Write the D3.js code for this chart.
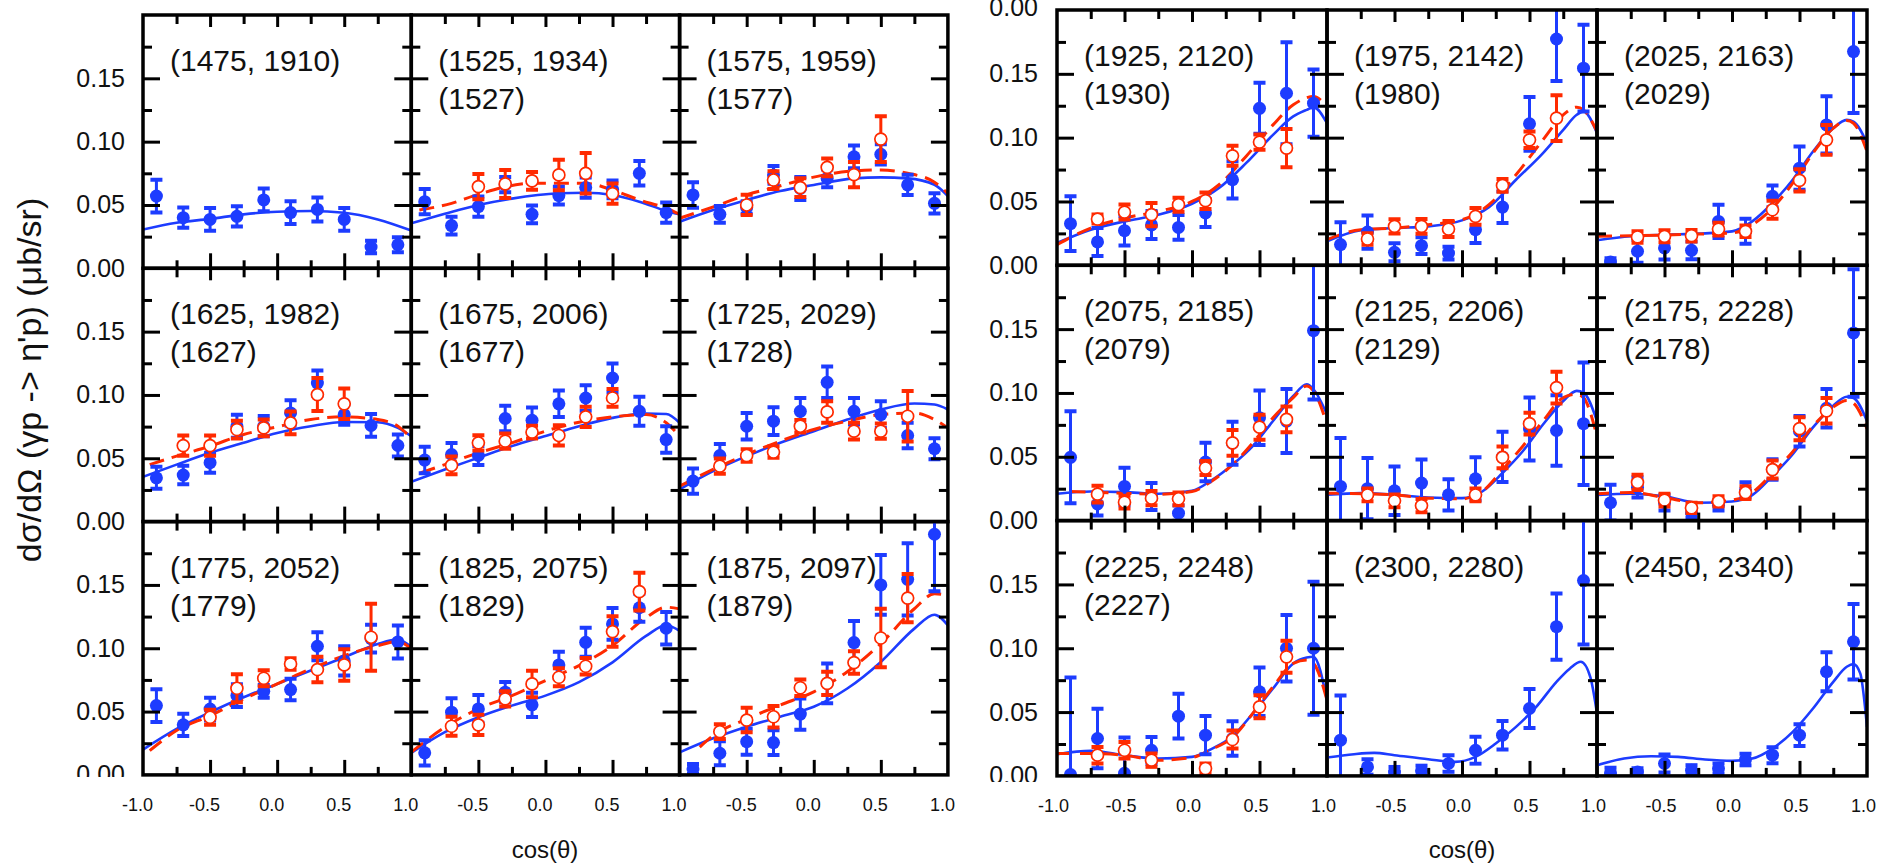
<!DOCTYPE html>
<html><head><meta charset="utf-8">
<script src="https://cdn.jsdelivr.net/npm/d3@7"></script>
<style>
body{margin:0;background:#fff;}
svg{display:block;font-family:"Liberation Sans",Arial,Helvetica,sans-serif;}
</style>
</head><body>
<svg id="chart" width="1892" height="867"></svg>
<script>
// ---------------- DATA ----------------
const cosBins = [-0.9, -0.7, -0.5, -0.3, -0.1, 0.1, 0.3, 0.5, 0.7, 0.9];
const xTickLabelsFirst = [-1.0, -0.5, 0.0, 0.5, 1.0];
const xTickLabelsOther = [-0.5, 0.0, 0.5, 1.0];
const yTickLabels = [0.00, 0.05, 0.10, 0.15];
const strayTopLabel = "0.00";
const yTitle = "dσ/dΩ (γp -> η'p) (μb/sr)";
const xTitle = "cos(θ)";

const panelTitles = ["(1475, 1910)", "(1525, 1934)", "(1575, 1959)", "(1625, 1982)", "(1675, 2006)", "(1725, 2029)",
  "(1775, 2052)", "(1825, 2075)", "(1875, 2097)", "(1925, 2120)", "(1975, 2142)", "(2025, 2163)",
  "(2075, 2185)", "(2125, 2206)", "(2175, 2228)", "(2225, 2248)", "(2300, 2280)", "(2450, 2340)"];
const panelSubtitles = ["", "(1527)", "(1577)", "(1627)", "(1677)", "(1728)", "(1779)", "(1829)", "(1879)",
  "(1930)", "(1980)", "(2029)", "(2079)", "(2129)", "(2178)", "(2227)", "", ""];

// blue: filled points (value, error) at cosBins
const blueVals = [
  [0.057, 0.040, 0.0386, 0.041, 0.054, 0.044, 0.0465, 0.0386, 0.0168, 0.0186],
  [0.0526, 0.0337, 0.0487, 0.066, 0.0426, 0.0574, 0.0637, 0.0624, 0.075, 0.044],
  [0.0579, 0.0426, 0.048, 0.0737, 0.063, 0.071, 0.088, 0.09, 0.0658, 0.0513],
  [0.0346, 0.0367, 0.0465, 0.0753, 0.0753, 0.0858, 0.1094, 0.0845, 0.0759, 0.0601],
  [0.0486, 0.053, 0.0522, 0.0814, 0.080, 0.093, 0.0976, 0.1134, 0.0871, 0.0648],
  [0.032, 0.0522, 0.0753, 0.0793, 0.0871, 0.110, 0.0871, 0.0845, 0.068, 0.0575],
  [0.0547, 0.0395, 0.052, 0.0626, 0.066, 0.0674, 0.1016, 0.090, 0.1076, 0.105],
  [0.0174, 0.0495, 0.0521, 0.0653, 0.0553, 0.0868, 0.1047, 0.1192, 0.132, 0.1158],
  [0.0047, 0.0171, 0.0262, 0.0255, 0.048, 0.0722, 0.1045, 0.150, 0.1544, 0.190],
  [0.0326, 0.0183, 0.0271, 0.0316, 0.0297, 0.041, 0.067, 0.123, 0.1348, 0.127],
  [0.0162, 0.026, 0.0102, 0.0154, 0.0096, 0.0279, 0.0456, 0.1108, 0.1773, 0.1544],
  [0.0026, 0.011, 0.0136, 0.0117, 0.0344, 0.0266, 0.054, 0.0761, 0.11, 0.1674],
  [0.0496, 0.013, 0.0268, 0.0189, 0.0058, 0.0459, 0.0606, 0.0806, 0.078, 0.1488],
  [0.0268, 0.025, 0.0234, 0.0294, 0.0202, 0.0328, 0.0499, 0.0717, 0.0706, 0.0759],
  [0.014, 0.026, 0.014, 0.006, 0.012, 0.024, 0.04, 0.07, 0.088, 0.147],
  [0.001, 0.0293, 0.002, 0.020, 0.0468, 0.0319, 0.0293, 0.0659, 0.10, 0.10],
  [0.028, 0.007, 0.003, 0.004, 0.0097, 0.0201, 0.0319, 0.0528, 0.1169, 0.153],
  [0.0024, 0.003, 0.0097, 0.0044, 0.0058, 0.0128, 0.0162, 0.0319, 0.0816, 0.1051]
];
const blueErrs = [
  [0.013, 0.008, 0.009, 0.008, 0.009, 0.009, 0.0095, 0.009, 0.005, 0.006],
  [0.01, 0.007, 0.008, 0.006, 0.007, 0.007, 0.008, 0.007, 0.0097, 0.008],
  [0.01, 0.0066, 0.005, 0.007, 0.009, 0.007, 0.009, 0.008, 0.008, 0.008],
  [0.0087, 0.0073, 0.0079, 0.009, 0.008, 0.01, 0.01, 0.008, 0.009, 0.0087],
  [0.0105, 0.009, 0.0075, 0.01, 0.01, 0.0105, 0.01, 0.0115, 0.0115, 0.0105],
  [0.01, 0.009, 0.0105, 0.011, 0.0105, 0.0125, 0.0105, 0.0105, 0.01, 0.0083],
  [0.013, 0.0087, 0.009, 0.009, 0.005, 0.0085, 0.011, 0.0115, 0.011, 0.013],
  [0.01, 0.011, 0.011, 0.008, 0.0096, 0.0105, 0.0115, 0.0125, 0.011, 0.0128],
  [0.004, 0.0095, 0.0102, 0.0098, 0.0124, 0.0157, 0.017, 0.0236, 0.0286, 0.045],
  [0.0214, 0.011, 0.0115, 0.011, 0.0097, 0.011, 0.0146, 0.02, 0.04, 0.0263],
  [0.0176, 0.013, 0.007, 0.0065, 0.005, 0.0105, 0.0125, 0.021, 0.033, 0.034],
  [0.003, 0.009, 0.009, 0.007, 0.013, 0.0098, 0.0085, 0.017, 0.0224, 0.048],
  [0.036, 0.009, 0.0147, 0.0105, 0.006, 0.015, 0.0168, 0.0214, 0.025, 0.054],
  [0.038, 0.024, 0.019, 0.0184, 0.0122, 0.0168, 0.0197, 0.0247, 0.0276, 0.048],
  [0.014, 0.008, 0.006, 0.004, 0.004, 0.006, 0.008, 0.012, 0.015, 0.05],
  [0.076, 0.0233, 0.028, 0.0105, 0.0175, 0.015, 0.0135, 0.019, 0.026, 0.052],
  [0.035, 0.006, 0.004, 0.004, 0.0065, 0.0105, 0.0112, 0.0153, 0.026, 0.05],
  [0.004, 0.003, 0.007, 0.004, 0.004, 0.0045, 0.0063, 0.0085, 0.0153, 0.0295]
];
// red: open points (value, error) at cosBins, null where absent
const redVals = [
  [null, null, null, null, null, null, null, null, null, null],
  [null, null, 0.0645, 0.0666, 0.069, 0.0737, 0.075, 0.059, null, null],
  [null, null, 0.05, 0.0697, 0.0637, 0.0797, 0.074, 0.102, null, null],
  [null, 0.060, 0.060, 0.0727, 0.074, 0.078, 0.1003, 0.093, null, null],
  [null, 0.0444, 0.0622, 0.0635, 0.0706, 0.068, 0.0827, 0.0976, null, null],
  [null, 0.0438, 0.0522, 0.0549, 0.0753, 0.0866, 0.0714, 0.0714, 0.0832, null],
  [null, null, 0.0455, 0.0684, 0.0763, 0.0876, 0.0832, 0.0868, 0.1087, null],
  [null, 0.0384, 0.0395, 0.06, 0.0718, 0.0771, 0.0858, 0.1132, 0.1447, null],
  [null, 0.0341, 0.0433, 0.0459, 0.0688, 0.0722, 0.0887, 0.1081, 0.1396, null],
  [null, 0.0362, 0.0417, 0.0397, 0.0475, 0.0506, 0.0858, 0.0965, 0.0918, null],
  [null, 0.0206, 0.0305, 0.0305, 0.0284, 0.0383, 0.0626, 0.0983, 0.1153, null],
  [null, 0.0222, 0.0227, 0.0232, 0.0284, 0.0266, 0.0435, 0.0665, 0.0983, null],
  [null, 0.0207, 0.0144, 0.0176, 0.0171, 0.0412, 0.0609, 0.0732, 0.0793, null],
  [null, 0.0202, 0.0155, 0.0118, null, 0.0202, 0.0496, 0.0759, 0.1042, null],
  [null, 0.030, 0.016, 0.010, 0.015, 0.022, 0.04, 0.072, 0.086, null],
  [null, 0.0162, 0.0201, 0.0123, null, 0.0058, 0.0285, 0.0541, 0.0933, null],
  [null, null, null, null, null, null, null, null, null, null],
  [null, null, null, null, null, null, null, null, null, null]
];
const redErrs = [
  [null, null, null, null, null, null, null, null, null, null],
  [null, null, 0.01, 0.011, 0.007, 0.012, 0.016, 0.008, null, null],
  [null, null, 0.008, 0.007, 0.0075, 0.007, 0.01, 0.018, null, null],
  [null, 0.008, 0.008, 0.007, 0.0066, 0.009, 0.013, 0.012, null, null],
  [null, 0.007, 0.006, 0.006, 0.005, 0.008, 0.008, 0.007, null, null],
  [null, 0.006, 0.005, 0.0045, 0.005, 0.0085, 0.0066, 0.006, 0.02, null],
  [null, null, 0.006, 0.011, 0.0063, 0.0045, 0.01, 0.0125, 0.0265, null],
  [null, 0.0075, 0.008, 0.006, 0.0105, 0.0072, 0.0066, 0.0121, 0.0149, null],
  [null, 0.0058, 0.0097, 0.0085, 0.0066, 0.0092, 0.0089, 0.0231, 0.019, null],
  [null, 0.0035, 0.0059, 0.0091, 0.0055, 0.0065, 0.0078, 0.006, 0.015, null],
  [null, 0.0045, 0.0055, 0.0057, 0.0063, 0.0065, 0.005, 0.0065, 0.018, null],
  [null, 0.0045, 0.0047, 0.0045, 0.005, 0.0045, 0.007, 0.0087, 0.0117, null],
  [null, 0.0066, 0.005, 0.0055, 0.005, 0.0055, 0.01, 0.0098, 0.01, null],
  [null, 0.005, 0.005, 0.0052, null, 0.005, 0.0085, 0.0085, 0.0125, null],
  [null, 0.006, 0.005, 0.004, 0.004, 0.005, 0.007, 0.009, 0.01, null],
  [null, 0.0065, 0.0065, 0.0052, null, 0.004, 0.007, 0.009, 0.0125, null],
  [null, null, null, null, null, null, null, null, null, null],
  [null, null, null, null, null, null, null, null, null, null]
];
// blue solid model curves [cos, value]
const blueFits = [
  [[-1,0.0306],[-0.75,0.036],[-0.5,0.039],[-0.25,0.0426],[0,0.0447],[0.25,0.0452],[0.5,0.0439],[0.75,0.0386],[1,0.0298]],
  [[-1,0.0355],[-0.75,0.043],[-0.5,0.05],[-0.25,0.055],[0.1,0.0592],[0.3,0.0597],[0.5,0.0579],[0.7,0.0526],[0.9,0.0453],[1,0.0426]],
  [[-1,0.0368],[-0.75,0.046],[-0.5,0.054],[-0.25,0.061],[0,0.0658],[0.3,0.071],[0.5,0.0718],[0.7,0.071],[0.9,0.066],[1,0.057]],
  [[-1,0.0354],[-0.75,0.045],[-0.5,0.0543],[-0.25,0.0622],[0,0.070],[0.25,0.0753],[0.5,0.0787],[0.75,0.0785],[0.9,0.074],[1,0.0674]],
  [[-1,0.0315],[-0.75,0.0412],[-0.5,0.0504],[-0.25,0.0596],[0,0.0675],[0.25,0.0753],[0.5,0.0819],[0.75,0.0853],[0.9,0.085],[1,0.078]],
  [[-1,0.0255],[-0.75,0.0399],[-0.5,0.0517],[-0.25,0.0622],[0,0.0714],[0.25,0.0806],[0.5,0.0885],[0.75,0.0932],[0.9,0.0924],[1,0.0885]],
  [[-1,0.02],[-0.75,0.0363],[-0.5,0.0495],[-0.25,0.0613],[0,0.0718],[0.25,0.0824],[0.5,0.0929],[0.75,0.1034],[0.9,0.1068],[1,0.1008]],
  [[-1,0.0174],[-0.75,0.0337],[-0.5,0.0455],[-0.25,0.0547],[0,0.0626],[0.25,0.0732],[0.5,0.0889],[0.75,0.1097],[0.9,0.1182],[1,0.1137]],
  [[-1,0.0178],[-0.75,0.0289],[-0.5,0.0381],[-0.25,0.046],[0,0.0538],[0.25,0.0682],[0.5,0.0892],[0.75,0.1155],[0.9,0.1265],[1,0.118]],
  [[-1,0.0175],[-0.75,0.0279],[-0.5,0.0344],[-0.25,0.0396],[0,0.0482],[0.2,0.0605],[0.4,0.08],[0.6,0.1022],[0.75,0.1166],[0.85,0.1218],[0.9,0.1239],[1,0.1113]],
  [[-1,0.0188],[-0.75,0.0274],[-0.5,0.0292],[-0.25,0.0305],[0,0.0352],[0.2,0.0456],[0.4,0.067],[0.6,0.0879],[0.75,0.1061],[0.85,0.1179],[0.9,0.1205],[1,0.1035]],
  [[-1,0.0196],[-0.75,0.0227],[-0.5,0.024],[-0.25,0.0248],[0,0.0266],[0.15,0.0344],[0.3,0.0488],[0.45,0.067],[0.6,0.0892],[0.75,0.1074],[0.85,0.1139],[0.9,0.1126],[1,0.0957]],
  [[-1,0.021],[-0.75,0.0228],[-0.5,0.0223],[-0.25,0.021],[0,0.0234],[0.15,0.032],[0.3,0.0438],[0.45,0.0583],[0.6,0.078],[0.75,0.0976],[0.85,0.1068],[0.9,0.1029],[1,0.0832]],
  [[-1,0.0202],[-0.75,0.0215],[-0.5,0.0202],[-0.25,0.0181],[0,0.0176],[0.15,0.0228],[0.3,0.0373],[0.45,0.0543],[0.6,0.0753],[0.75,0.0937],[0.85,0.1016],[0.9,0.1003],[1,0.078]],
  [[-1,0.02],[-0.75,0.021],[-0.5,0.019],[-0.25,0.014],[0,0.015],[0.15,0.02],[0.3,0.035],[0.45,0.052],[0.6,0.073],[0.75,0.09],[0.85,0.097],[0.9,0.096],[1,0.078]],
  [[-1,0.017],[-0.75,0.0196],[-0.5,0.0162],[-0.25,0.0136],[0,0.0149],[0.15,0.0214],[0.3,0.0311],[0.45,0.0489],[0.6,0.0685],[0.75,0.0881],[0.85,0.0928],[0.9,0.0933],[1,0.0593]],
  [[-1,0.0144],[-0.8,0.017],[-0.65,0.018],[-0.5,0.0162],[-0.25,0.0131],[-0.05,0.011],[0.1,0.0149],[0.25,0.0254],[0.4,0.0384],[0.55,0.0541],[0.7,0.0737],[0.8,0.0842],[0.88,0.0894],[0.95,0.0776],[1,0.0489]],
  [[-1,0.0084],[-0.8,0.0136],[-0.6,0.0154],[-0.4,0.0149],[-0.2,0.0128],[0,0.0118],[0.15,0.0136],[0.3,0.0214],[0.45,0.0345],[0.6,0.0528],[0.75,0.0737],[0.85,0.0855],[0.9,0.0876],[0.95,0.0803],[1,0.0384]]
];
// red dashed model curves [cos, value]
const redFits = [
  [],
  [[-0.94,0.046],[-0.7,0.0513],[-0.5,0.0584],[-0.1,0.0671],[0.3,0.0671],[0.5,0.0618],[0.7,0.054],[0.9,0.0474],[1,0.0426]],
  [[-1,0.0395],[-0.7,0.0503],[-0.5,0.058],[-0.3,0.0637],[0,0.072],[0.3,0.077],[0.5,0.0776],[0.7,0.075],[0.9,0.068],[1,0.059]],
  [[-0.95,0.045],[-0.75,0.0517],[-0.5,0.0596],[-0.25,0.0688],[0,0.0748],[0.25,0.0806],[0.5,0.0827],[0.75,0.0806],[0.9,0.0753],[1,0.066]],
  [[-0.93,0.0386],[-0.75,0.045],[-0.5,0.0543],[-0.25,0.0622],[0,0.0714],[0.25,0.0785],[0.5,0.0827],[0.75,0.0845],[0.9,0.078],[1,0.0674]],
  [[-1,0.028],[-0.75,0.0412],[-0.5,0.053],[-0.25,0.0635],[0,0.0727],[0.25,0.0793],[0.5,0.0845],[0.75,0.0858],[0.9,0.0806],[1,0.074]],
  [[-0.95,0.0192],[-0.75,0.035],[-0.5,0.0468],[-0.25,0.06],[0,0.0718],[0.25,0.0837],[0.5,0.0942],[0.75,0.1021],[0.9,0.1053],[1,0.0995]],
  [[-1,0.0179],[-0.75,0.0376],[-0.5,0.0521],[-0.25,0.0626],[0,0.0745],[0.25,0.0863],[0.5,0.1021],[0.75,0.1242],[0.9,0.1324],[1,0.1311]],
  [[-0.85,0.022],[-0.75,0.031],[-0.5,0.0441],[-0.25,0.0551],[0,0.0656],[0.25,0.0814],[0.5,0.1037],[0.75,0.1312],[0.9,0.143],[1,0.1417]],
  [[-1,0.0162],[-0.75,0.0292],[-0.5,0.037],[-0.25,0.0422],[0,0.05],[0.2,0.0631],[0.4,0.0853],[0.6,0.11],[0.75,0.1257],[0.9,0.1322],[1,0.1244]],
  [[-1,0.0201],[-0.75,0.0279],[-0.5,0.0292],[-0.25,0.0318],[0,0.0357],[0.2,0.0475],[0.4,0.0709],[0.6,0.0983],[0.75,0.1179],[0.85,0.1239],[0.9,0.1218],[1,0.1048]],
  [[-1,0.0227],[-0.75,0.0232],[-0.5,0.0237],[-0.25,0.0245],[0,0.0253],[0.15,0.0318],[0.3,0.0448],[0.45,0.0644],[0.6,0.0879],[0.75,0.1074],[0.85,0.1134],[0.9,0.1113],[1,0.0892]],
  [[-0.9,0.0228],[-0.5,0.0215],[-0.25,0.0207],[0,0.0228],[0.15,0.0312],[0.3,0.0438],[0.45,0.0609],[0.6,0.0806],[0.75,0.0963],[0.85,0.1055],[0.9,0.1016],[1,0.0753]],
  [[-1,0.0215],[-0.5,0.0202],[-0.25,0.0176],[0,0.0171],[0.15,0.0228],[0.3,0.0399],[0.45,0.0583],[0.6,0.078],[0.75,0.0963],[0.85,0.099],[0.9,0.0963],[1,0.0661]],
  [[-1,0.021],[-0.75,0.022],[-0.5,0.018],[-0.25,0.014],[0,0.016],[0.15,0.022],[0.3,0.037],[0.45,0.054],[0.6,0.074],[0.75,0.089],[0.85,0.094],[0.9,0.092],[1,0.072]],
  [[-1,0.0175],[-0.75,0.0175],[-0.5,0.0162],[-0.25,0.0123],[0,0.0144],[0.15,0.021],[0.3,0.0301],[0.45,0.0489],[0.6,0.0698],[0.75,0.0881],[0.85,0.0907],[0.9,0.0881],[1,0.0593]],
  [],
  []
];

// ---------------- LAYOUT / STYLE ----------------
const BLUE = "#1d3cff", RED = "#ff2a00";
const grids = [
  {x0: 143, y0: 15, w: 268.3, h: 253.3, first: 0, labelX: 125, tickDx: -6, titleX: 545, labelClipBottom: 777},
  {x0: 1057, y0: 10, w: 270, h: 255.3, first: 9, labelX: 1038, tickDx: -4, titleX: 1462, labelClipBottom: 782}
];
const svg = d3.select("#chart");
svg.append("rect").attr("width", 1892).attr("height", 867).attr("fill", "#fff");
const defs = svg.append("defs");
const fmt1 = d => d.toFixed(1);
const fmt2 = d => d.toFixed(2);
grids.forEach((G, gi) => {
  defs.append("clipPath").attr("id", "clipLabels" + gi).append("rect")
    .attr("x", G.labelX - 80).attr("y", 0).attr("width", 80).attr("height", G.labelClipBottom);
});

function inwardTicks(g, axisFn, scale, tr, values, size) {
  const ax = axisFn(scale).tickValues(values).tickSize(-size).tickFormat("");
  const s = g.append("g").attr("transform", tr).call(ax);
  s.select(".domain").remove();
  s.selectAll("line").attr("stroke", "#000").attr("stroke-width", 3);
}

for (let p = 0; p < 18; p++) {
  const gi = p < 9 ? 0 : 1;
  const G = grids[gi];
  const k = p - G.first, row = Math.floor(k / 3), col = k % 3;
  const left = G.x0 + col * G.w, top = G.y0 + row * G.h;
  const x = d3.scaleLinear().domain([-1, 1]).range([left, left + G.w]);
  const y = d3.scaleLinear().domain([0, 0.2]).range([top + G.h, top]);
  const pg = svg.append("g");
  const cid = "clip" + p;
  defs.append("clipPath").attr("id", cid).append("rect")
    .attr("x", left).attr("y", top).attr("width", G.w).attr("height", G.h);
  const dg = pg.append("g").attr("clip-path", `url(#${cid})`);

  // panel labels
  pg.append("text").attr("x", left + 27).attr("y", top + 56).attr("font-size", 30).attr("fill", "#111").text(panelTitles[p]);
  if (panelSubtitles[p]) pg.append("text").attr("x", left + 27).attr("y", top + 94).attr("font-size", 30).attr("fill", "#111").text(panelSubtitles[p]);

  const line = d3.line().x(d => x(d[0])).y(d => y(d[1])).curve(d3.curveMonotoneX);
  dg.append("path").datum(blueFits[p]).attr("d", line).attr("fill", "none").attr("stroke", BLUE).attr("stroke-width", 2.6);
  if (redFits[p].length) dg.append("path").datum(redFits[p]).attr("d", line).attr("fill", "none")
    .attr("stroke", RED).attr("stroke-width", 3).attr("stroke-dasharray", "15,8");

  // blue points
  const bpts = cosBins.map((c, i) => ({c, v: blueVals[p][i], e: blueErrs[p][i]}));
  const bg = dg.append("g");
  bpts.forEach(d => {
    const xx = x(d.c);
    bg.append("line").attr("x1", xx).attr("x2", xx).attr("y1", y(d.v - d.e)).attr("y2", y(d.v + d.e)).attr("stroke", BLUE).attr("stroke-width", 3);
    [d.v - d.e, d.v + d.e].forEach(v => bg.append("line").attr("x1", xx - 6).attr("x2", xx + 6).attr("y1", y(v)).attr("y2", y(v)).attr("stroke", BLUE).attr("stroke-width", 4));
    bg.append("circle").attr("cx", xx).attr("cy", y(d.v)).attr("r", 6.5).attr("fill", BLUE);
  });
  // red points
  const rpts = cosBins.map((c, i) => ({c, v: redVals[p][i], e: redErrs[p][i]})).filter(d => d.v !== null);
  const rg = dg.append("g");
  rpts.forEach(d => {
    const xx = x(d.c);
    rg.append("line").attr("x1", xx).attr("x2", xx).attr("y1", y(d.v - d.e)).attr("y2", y(d.v + d.e)).attr("stroke", RED).attr("stroke-width", 3);
    [d.v - d.e, d.v + d.e].forEach(v => rg.append("line").attr("x1", xx - 6).attr("x2", xx + 6).attr("y1", y(v)).attr("y2", y(v)).attr("stroke", RED).attr("stroke-width", 4));
    rg.append("circle").attr("cx", xx).attr("cy", y(d.v)).attr("r", 6).attr("fill", "#fff").attr("stroke", RED).attr("stroke-width", 1.7);
  });

  // ticks (inward on all four sides)
  const xMaj = [-0.5, 0, 0.5], xMin = [-0.75, -0.25, 0.25, 0.75];
  const yMaj = [0.05, 0.1, 0.15], yMin = [0.025, 0.075, 0.125, 0.175];
  inwardTicks(pg, d3.axisBottom, x, `translate(0,${top + G.h})`, xMaj, 15);
  inwardTicks(pg, d3.axisBottom, x, `translate(0,${top + G.h})`, xMin, 8);
  inwardTicks(pg, d3.axisTop, x, `translate(0,${top})`, xMaj, 12);
  inwardTicks(pg, d3.axisTop, x, `translate(0,${top})`, xMin, 9);
  inwardTicks(pg, d3.axisLeft, y, `translate(${left},0)`, yMaj, 17);
  inwardTicks(pg, d3.axisLeft, y, `translate(${left},0)`, yMin, 9);
  inwardTicks(pg, d3.axisRight, y, `translate(${left + G.w},0)`, yMaj, 17);
  inwardTicks(pg, d3.axisRight, y, `translate(${left + G.w},0)`, yMin, 9);

  pg.append("rect").attr("x", left).attr("y", top).attr("width", G.w).attr("height", G.h)
    .attr("fill", "none").attr("stroke", "#000").attr("stroke-width", 3.5);

  // y tick labels on first column
  if (col === 0) {
    const lg = svg.append("g").attr("clip-path", `url(#clipLabels${gi})`);
    const ax = d3.axisLeft(y).tickValues(yTickLabels).tickSize(0).tickPadding(0).tickFormat(fmt2);
    const s = lg.append("g").attr("transform", `translate(${G.labelX},0)`).call(ax);
    s.select(".domain").remove();
    s.selectAll("text").attr("font-size", 25).attr("font-family", "Liberation Sans, Arial, sans-serif").attr("fill", "#111");
    if (p === 9) {
      svg.append("text").attr("x", G.labelX).attr("y", y(0.2) - 3).attr("text-anchor", "end")
        .attr("dominant-baseline", "central").attr("font-size", 25).attr("fill", "#111").text(strayTopLabel);
    }
  }
  // x tick labels on bottom row
  if (row === 2) {
    const vals = col === 0 ? xTickLabelsFirst : xTickLabelsOther;
    const ax = d3.axisBottom(x).tickValues(vals).tickSize(0).tickPadding(0).tickFormat(fmt1);
    const s = svg.append("g").attr("transform", `translate(${G.tickDx},${top + G.h + 23})`).call(ax);
    s.select(".domain").remove();
    s.selectAll("text").attr("font-size", 18).attr("font-family", "Liberation Sans, Arial, sans-serif").attr("fill", "#111");
  }
}

// axis titles
grids.forEach(G => {
  svg.append("text").attr("x", G.titleX).attr("y", 849).attr("text-anchor", "middle").attr("dominant-baseline", "central")
    .attr("font-size", 24).attr("fill", "#111").text(xTitle);
});
svg.append("text").attr("transform", "translate(29,380) rotate(-90)").attr("text-anchor", "middle")
  .attr("dominant-baseline", "central").attr("font-size", 34).attr("fill", "#111").text(yTitle);
</script>
</body></html>
